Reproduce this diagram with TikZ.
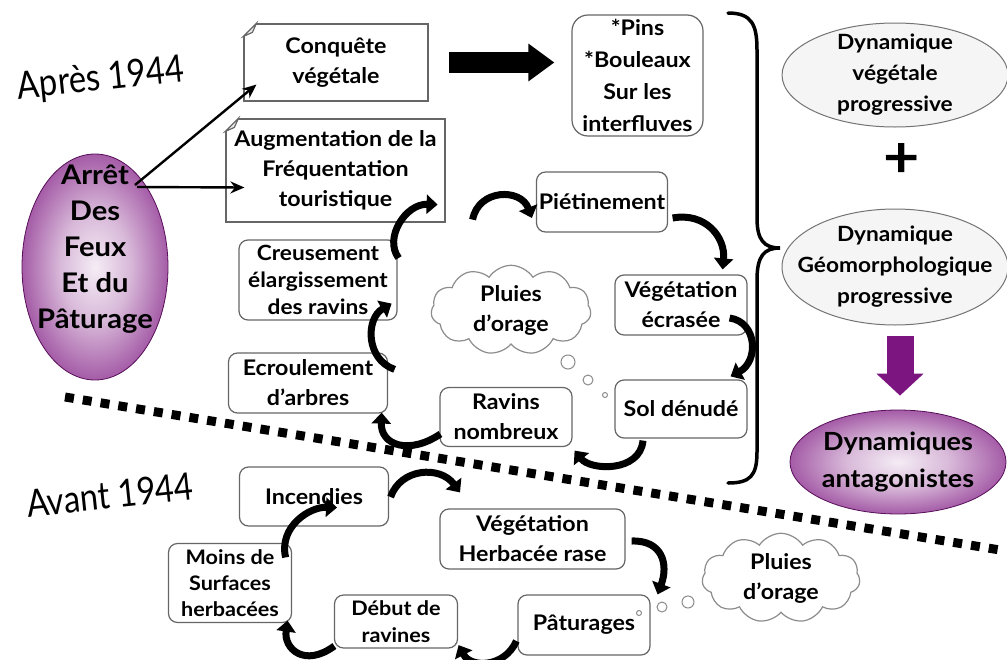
\documentclass[tikz,border=0pt]{standalone}
\usepackage{fontspec}
\setmainfont{Lato}[FakeStretch=1.08]
\newfontfamily\titlefont{Lato}[FakeStretch=0.86]
\usetikzlibrary{shapes.geometric,shapes.symbols,arrows.meta,calc}

\definecolor{purp}{HTML}{7D1580}
\pgfdeclareradialshading{purpshade}{\pgfpoint{0bp}{0bp}}{color(0bp)=(purp!8!white); color(12bp)=(purp!30!white); color(30bp)=(purp!85!white); color(42bp)=(purp); color(50bp)=(purp!85!black)}

\tikzset{
    txt/.style={font=\bfseries\fontsize{21.5}{30}\selectfont, align=center, text=black},
    boxline/.style={draw=black!60, line width=1.2pt},
    cyclebox/.style={txt, boxline, rounded corners=9pt, fill=white, inner sep=0pt},
    notebox/.style={txt, boxline, fill=white, inner sep=0pt},
    dynell/.style={txt, font=\bfseries\fontsize{21}{31}\selectfont, ellipse, draw=black!55, line width=1pt, fill=black!4, inner sep=-25pt},
    purpell/.style={ellipse, shading=purpshade, draw=purp!70!black, line width=0.8pt, inner sep=-30pt, align=center},
    rain/.style={txt, cloud, cloud puffs=11, cloud puff arc=115, aspect=2, boxline, draw=black!45, fill=white, inner sep=0pt},
    bubble/.style={draw=black!45, line width=1pt, fill=white},
    cyc/.style={line width=7pt, -{Triangle[width=19pt,length=11pt]}},
    title/.style={font=\titlefont\fontsize{38}{40}\selectfont, rotate=6, inner sep=0pt}
}

\newcommand\dogear[1]{%
    \fill[white] ($(#1.north west)+(-2,-2)$) -- ($(#1.north west)+(15,-2)$) -- ($(#1.north west)+(-2,15)$) -- cycle;
    \draw[boxline, fill=black!8] ($(#1.north west)+(0,13)$) -- ($(#1.north west)+(13,0)$) -- ($(#1.north west)+(9,9)$) -- cycle;
}

\begin{document}
\begin{tikzpicture}[x=1pt, y=-1pt]
    \useasboundingbox (0,0) rectangle (1007,659);

    % Titles
    \node[title] (apres) at (101,80) {Après 1944};
    \node[title] (avant) at (110,495) {Avant 1944};

    % Separator between the two periods
    \draw[line width=9pt, dash pattern=on 9pt off 9pt] (65,397) -- (1000,550);

    % After 1944
    \node[purpell, minimum width=146pt, minimum height=226pt, text depth=40pt,
          font=\bfseries\fontsize{27}{36}\selectfont] (arret) at (95,267)
          {Arrêt\\Des\\Feux\\Et du\\Pâturage};
    \node[notebox, minimum width=184pt, minimum height=77pt] (conq) at (336,62.5) {Conquête\\végétale};
    \node[notebox, minimum width=219pt, minimum height=103pt] (augm) at (335.5,170.5)
          {Augmentation de la\\Fréquentation\\touristique};
    \dogear{conq}
    \dogear{augm}
    \node[cyclebox, rounded corners=16pt, minimum width=131pt, minimum height=121pt,
          font=\bfseries\fontsize{21.5}{32}\selectfont] (pins) at (637.5,75.5)
          {*Pins\\*Bouleaux\\Sur les\\interfluves};

    \draw[line width=2.4pt, -{Stealth[length=14pt,width=12pt]}] ($(arret.center)+(40,-82)$) -- ($(conq.south west)+(13,-17)$);
    \draw[line width=2.4pt, -{Stealth[length=14pt,width=12pt]}] ($(arret.center)+(42,-80)$) -- ($(augm.west)+(19,17)$);
    \draw[line width=21pt, -{Triangle[width=36pt,length=26pt]}] ($(conq.east)+(20,0)$) -- ($(conq.east -| pins.west)+(-17,0)$);

    % Cycle after 1944
    \node[cyclebox, minimum width=131pt, minimum height=60pt] (pieti) at (602,202) {Piétinement};
    \node[cyclebox, minimum width=132pt, minimum height=60pt] (vecr) at (681,305) {Végétation\\écrasée};
    \node[cyclebox, minimum width=132pt, minimum height=58pt] (sold) at (681,409) {Sol dénudé};
    \node[cyclebox, minimum width=132pt, minimum height=59pt] (ravn) at (506,417) {Ravins\\nombreux};
    \node[cyclebox, minimum width=159pt, minimum height=60pt] (ecro) at (308,383) {Ecroulement\\d’arbres};
    \node[cyclebox, minimum width=158pt, minimum height=80pt, font=\bfseries\fontsize{21}{27}\selectfont] (creu) at (318,280)
          {Creusement\\élargissement\\des ravins};
    \node[rain, minimum width=160pt, minimum height=85pt] (pluie) at (511,310) {Pluies\\d’orage};
    \draw[bubble] (568,362) circle (7pt);
    \draw[bubble] (588,380) circle (5pt);
    \draw[bubble] (605,395) circle (2.5pt);

    \draw[cyc] ($(augm.south east)+(27,-3)$) .. controls +(6,-31) and +(-11,-30) .. ($(pieti.west)+(-4,16)$);
    \draw[cyc] ($(pieti.east)+(4.5,16)$) .. controls +(33,-6) and +(3,-32) .. ($(vecr.north east)+(-25,-5)$);
    \draw[cyc] ($(vecr.east)+(-18,13)$) .. controls +(28,4) and +(28,-15) .. ($(sold.north east)+(-17,-3)$);
    \draw[cyc] ($(sold.south)+(-38,2)$) .. controls +(-3,32) and +(16,20) .. ($(ravn.south east)+(2,3.5)$);
    \draw[cyc] ($(ravn.west)+(1,17)$) .. controls +(-31,21) and +(-1,33) .. ($(ecro.south east)+(-6.5,-1)$);
    \draw[cyc] ($(ecro.north east)+(6.5,17)$) .. controls +(-29,-10) and +(-26,15) .. ($(creu.south east)+(-6,-17)$);
    \draw[cyc] ($(creu.east)+(1,-22)$) .. controls +(-15,-20) and +(-32,-1) .. ($(augm.south east)+(-8,-18)$);

    % Brace
    \draw[line width=3.5pt, line cap=round] (728,13) .. controls (752,13) and (757,25) .. (757,50) -- (757,218)
        .. controls (757,240) and (764,248) .. (780,248) .. controls (764,248) and (757,256) .. (757,280)
        -- (757,452) .. controls (757,476) and (750,483) .. (728,483);

    % Conclusion
    \node[dynell, minimum width=226pt, minimum height=104pt] (dveg) at (895,75) {Dynamique\\végétale\\progressive};
    \node[font=\bfseries\fontsize{58}{58}\selectfont] (plus) at (902,160) {+};
    \node[dynell, minimum width=226pt, minimum height=116pt] (dgeo) at (895,267) {Dynamique\\Géomorphologique\\progressive};
    \node[purpell, minimum width=216pt, minimum height=104pt,
          font=\bfseries\fontsize{25}{37}\selectfont] (anta) at (898,462) {Dynamiques\\antagonistes};
    \draw[purp, line width=27pt, -{Triangle[width=46pt,length=22pt]}] ($(dgeo.south)+(5,10)$) -- ($(anta.north)+(2,-14)$);

    % Cycle before 1944
    \node[cyclebox, minimum width=149pt, minimum height=59pt] (ince) at (314,496.5) {Incendies};
    \node[cyclebox, minimum width=185pt, minimum height=60pt] (vegr) at (532.5,539) {Végétation\\Herbacée rase};
    \node[cyclebox, minimum width=132pt, minimum height=60pt] (patu) at (584,625) {Pâturages};
    \node[cyclebox, minimum width=123pt, minimum height=53pt, font=\bfseries\fontsize{20}{27}\selectfont] (debr) at (396,621.5) {Début de\\ravines};
    \node[cyclebox, minimum width=123pt, minimum height=79pt, font=\bfseries\fontsize{20}{26}\selectfont] (moin) at (230,583)
          {Moins de\\Surfaces\\herbacées};
    \node[rain, minimum width=158pt, minimum height=87pt] (pluie2) at (781,578) {Pluies\\d’orage};
    \draw[bubble] (688,602) circle (6pt);
    \draw[bubble] (662,607) circle (5pt);
    \draw[bubble] (639,613) circle (2.5pt);

    \draw[cyc] ($(ince.east)+(1.5,0.5)$) .. controls +(10,-29) and +(-20,-27) .. ($(vegr.north)+(-72.5,-16)$);
    \draw[cyc] ($(vegr.east)+(6,2)$) .. controls +(31,-1) and +(11,-30) .. ($(patu.north east)+(7,0)$);
    \draw[cyc] ($(patu.west)+(-1,16)$) .. controls +(-12,27) and +(12,23) .. ($(debr.south east)+(0.5,-3.5)$);
    \draw[cyc] ($(debr.west)+(0.5,24.5)$) .. controls +(-30,22) and +(-4,28) .. ($(moin.south east)+(-4.5,-2.5)$);
    \draw[cyc] ($(moin.north east)+(-6.5,14.5)$) .. controls +(-7,-31) and +(-27,-1) .. ($(ince.south)+(23,-19)$);

\end{tikzpicture}
\end{document}
